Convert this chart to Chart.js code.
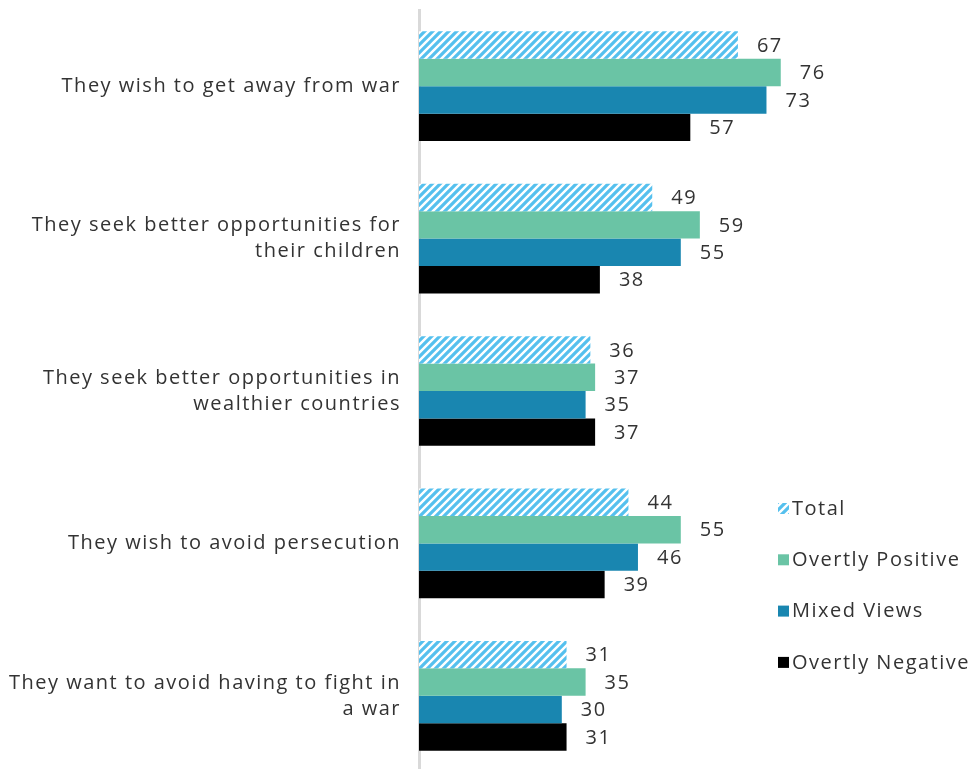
<!DOCTYPE html>
<html>
<head>
<meta charset="utf-8">
<script src="https://cdn.jsdelivr.net/npm/chart.js@4.4.1/dist/chart.umd.min.js"></script>
<style>
  html, body { margin: 0; padding: 0; background: #fff; overflow: hidden; }
  #wrap { position: relative; width: 976px; height: 774px; }
</style>
</head>
<body>
<div id="wrap"><canvas id="chart"></canvas></div>
<script>
// categories (multi-line labels as arrays)
var categories = [
  'They wish to get away from war',
  ['They seek better opportunities for', 'their children'],
  ['They seek better opportunities in', 'wealthier countries'],
  'They wish to avoid persecution',
  ['They want to avoid having to fight in', 'a war']
];
var seriesNames = ['Total', 'Overtly Positive', 'Mixed Views', 'Overtly Negative'];
var totalValues    = [67, 49, 36, 44, 31];
var positiveValues = [76, 59, 37, 55, 35];
var mixedValues    = [73, 55, 35, 46, 30];
var negativeValues = [57, 38, 37, 39, 31];

var FONT = '"Open Sans", sans-serif';
var TEXT = '#333333';
var SPACING = '1.5px';

// diagonal hatch for the Total series
function makeHatch() {
  var c = document.createElement('canvas');
  c.width = 8; c.height = 8;
  var g = c.getContext('2d');
  g.fillStyle = '#ffffff';
  g.fillRect(0, 0, 8, 8);
  g.strokeStyle = '#55C0EE';
  g.lineWidth = 3.2;
  g.beginPath();
  g.moveTo(-2, 10); g.lineTo(10, -2);
  g.moveTo(-6, 6); g.lineTo(6, -6);
  g.moveTo(2, 14); g.lineTo(14, 2);
  g.stroke();
  return g.createPattern(c, 'repeat');
}
var hatch = makeHatch();
var colors = [hatch, '#6AC4A5', '#1986B0', '#000000'];

// wide letter spacing to mimic the original typeface
var spacing = {
  id: 'spacing',
  beforeInit: function(chart) { chart.ctx.letterSpacing = SPACING; },
  beforeDraw: function(chart) { chart.ctx.letterSpacing = SPACING; }
};

var valueLabels = {
  id: 'valueLabels',
  afterDatasetsDraw: function(chart) {
    var ctx = chart.ctx;
    ctx.save();
    ctx.font = '20px ' + FONT;
    ctx.fillStyle = TEXT;
    ctx.textAlign = 'left';
    ctx.textBaseline = 'middle';
    chart.data.datasets.forEach(function(ds, i) {
      chart.getDatasetMeta(i).data.forEach(function(bar, j) {
        ctx.fillText(ds.data[j], bar.x + 19, bar.y + 1);
      });
    });
    ctx.restore();
  }
};

var sideLegend = {
  id: 'sideLegend',
  afterDraw: function(chart) {
    var ctx = chart.ctx;
    ctx.save();
    ctx.font = '20px ' + FONT;
    ctx.textBaseline = 'middle';
    ctx.textAlign = 'left';
    seriesNames.forEach(function(name, i) {
      var y = 509 + i * 51.3;
      ctx.fillStyle = colors[i];
      ctx.fillRect(778, y - 6, 11, 11);
      ctx.fillStyle = TEXT;
      ctx.fillText(name, 792, y);
    });
    ctx.restore();
  }
};

var chart = new Chart(document.getElementById('chart'), {
  type: 'bar',
  data: {
    labels: categories,
    datasets: [
      { label: seriesNames[0], data: totalValues, backgroundColor: colors[0] },
      { label: seriesNames[1], data: positiveValues, backgroundColor: colors[1] },
      { label: seriesNames[2], data: mixedValues, backgroundColor: colors[2] },
      { label: seriesNames[3], data: negativeValues, backgroundColor: colors[3] }
    ]
  },
  options: {
    indexAxis: 'y',
    animation: false,
    responsive: true,
    maintainAspectRatio: false,
    datasets: {
      bar: { barPercentage: 1.0, categoryPercentage: 0.72 }
    },
    layout: { padding: { top: 10, bottom: 2, left: 0, right: 81 } },
    plugins: {
      legend: { display: false },
      tooltip: { enabled: false }
    },
    scales: {
      x: {
        display: false,
        min: 0,
        max: 100
      },
      y: {
        grid: { display: false, drawTicks: false },
        border: { display: true, color: '#D9D9D9', width: 3 },
        ticks: {
          color: TEXT,
          font: { family: FONT, size: 20, lineHeight: 1.3 },
          padding: 18
        },
        afterFit: function(scale) {
          scale.width = 419;
          scale.paddingTop = 0;
          scale.paddingBottom = 0;
        }
      }
    }
  },
  plugins: [spacing, valueLabels, sideLegend]
});
</script>
</body>
</html>
